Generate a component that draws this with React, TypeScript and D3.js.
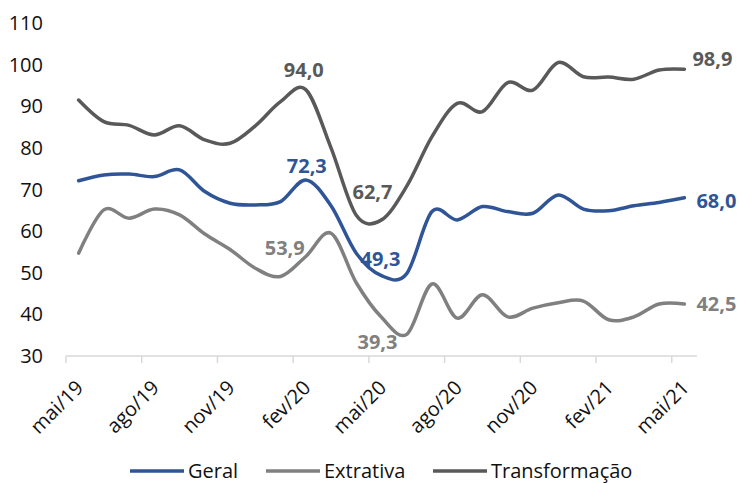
import { useEffect, useRef } from 'react'
import * as d3 from 'd3'

const months = [
  'mai/19', 'jun/19', 'jul/19', 'ago/19', 'set/19', 'out/19', 'nov/19', 'dez/19',
  'jan/20', 'fev/20', 'mar/20', 'abr/20', 'mai/20', 'jun/20', 'jul/20', 'ago/20',
  'set/20', 'out/20', 'nov/20', 'dez/20', 'jan/21', 'fev/21', 'mar/21', 'abr/21', 'mai/21',
]

const geral = [
  72.1, 73.5, 73.7, 73.1, 74.7, 69.5, 66.7, 66.3, 67.1, 72.3, 66.1, 54.7, 49.3,
  49.8, 64.7, 62.7, 65.9, 64.7, 64.3, 68.7, 65.3, 64.9, 66.1, 66.9, 68.0,
]
const extrativa = [
  54.7, 65.1, 63.1, 65.3, 63.9, 59.3, 55.6, 51.1, 49.1, 53.9, 59.5, 47.6, 39.3,
  35.2, 47.3, 39.1, 44.7, 39.4, 41.5, 42.8, 43.2, 38.7, 39.4, 42.5, 42.5,
]
const transformacao = [
  91.5, 86.3, 85.4, 83.1, 85.3, 81.9, 81.1, 85.3, 91.1, 94.0, 80.0, 63.8, 62.7,
  70.8, 82.7, 90.7, 88.7, 95.7, 93.9, 100.5, 97.1, 97.0, 96.5, 98.7, 98.9,
]

const yTicks = [30, 40, 50, 60, 70, 80, 90, 100, 110]

const series = [
  { name: 'Geral', values: geral, color: '#2f5597' },
  { name: 'Extrativa', values: extrativa, color: '#808080' },
  { name: 'Transformação', values: transformacao, color: '#595959' },
]

// which points get a value label, and where it sits relative to the point
const labels = [
  { s: 2, i: 9, dx: -2, dy: -13, anchor: 'middle' },
  { s: 2, i: 12, dx: -9, dy: -21, anchor: 'middle' },
  { s: 2, i: 24, dx: 8, dy: -3, anchor: 'start' },
  { s: 0, i: 9, dx: 1, dy: -7, anchor: 'middle' },
  { s: 0, i: 12, dx: -1, dy: -10, anchor: 'middle' },
  { s: 0, i: 24, dx: 12, dy: 10, anchor: 'start' },
  { s: 1, i: 9, dx: -1, dy: -2, anchor: 'end' },
  { s: 1, i: 12, dx: -4, dy: 32, anchor: 'middle' },
  { s: 1, i: 24, dx: 12, dy: 7, anchor: 'start' },
]

const legendX = [130, 266, 433]

export default function App() {
  const svgRef = useRef<SVGSVGElement>(null)
  const width = 740
  const height = 483

  useEffect(() => {
    const svg = d3.select(svgRef.current)
    svg.selectAll('*').remove()
    const font = "'Open Sans', sans-serif"

    const x = d3.scaleBand().domain(months).range([66, 697]).padding(0)
    const cx = (i: number) => (x(months[i]) as number) + x.bandwidth() / 2
    const y = d3.scaleLinear().domain([30, 110]).range([356, 23])

    // y tick labels, no axis line
    svg.append('g')
      .selectAll('text')
      .data(yTicks)
      .enter()
      .append('text')
      .attr('x', 43)
      .attr('y', d => y(d))
      .attr('dy', '0.35em')
      .attr('text-anchor', 'end')
      .style('font-family', font)
      .style('font-size', '20px')
      .attr('fill', '#111')
      .text(d => d)

    // x axis line + ticks every 3 months
    const axis = svg.append('g')
    axis.append('line')
      .attr('x1', 66).attr('x2', 697)
      .attr('y1', y(30)).attr('y2', y(30))
      .attr('stroke', '#d9d9d9').attr('stroke-width', 1.5)
    const tickIdx = months.map((_, i) => i).filter(i => i % 3 === 0)
    axis.selectAll('.tk')
      .data(tickIdx)
      .enter()
      .append('line')
      .attr('x1', i => x(months[i]) as number)
      .attr('x2', i => x(months[i]) as number)
      .attr('y1', y(30)).attr('y2', y(30) + 7)
      .attr('stroke', '#d9d9d9').attr('stroke-width', 1.5)
    axis.selectAll('.lbl')
      .data(tickIdx)
      .enter()
      .append('text')
      .attr('text-anchor', 'end')
      .attr('transform', i => `translate(${cx(i) + 6}, ${y(30) + 33}) rotate(-45)`)
      .style('font-family', font)
      .style('font-size', '20px')
      .attr('fill', '#111')
      .text(i => months[i])

    // lines
    const line = d3.line<number>()
      .x((_, i) => cx(i))
      .y(d => y(d))
      .curve(d3.curveCatmullRom.alpha(0))
    svg.append('g')
      .selectAll('path')
      .data(series)
      .enter()
      .append('path')
      .attr('d', d => line(d.values))
      .attr('fill', 'none')
      .attr('stroke', d => d.color)
      .attr('stroke-width', 3.5)
      .attr('stroke-linejoin', 'round')
      .attr('stroke-linecap', 'round')

    // value labels
    svg.append('g')
      .selectAll('text')
      .data(labels)
      .enter()
      .append('text')
      .attr('x', d => cx(d.i) + d.dx)
      .attr('y', d => y(series[d.s].values[d.i]) + d.dy)
      .attr('text-anchor', d => d.anchor)
      .style('font-family', font)
      .style('font-size', '20px')
      .style('font-weight', 'bold')
      .attr('fill', d => series[d.s].color)
      .text(d => d3.format('.1f')(series[d.s].values[d.i]).replace('.', ','))

    // legend
    const lg = svg.append('g')
      .selectAll('g')
      .data(series)
      .enter()
      .append('g')
      .attr('transform', (_, i) => `translate(${legendX[i]}, 471)`)
    lg.append('line')
      .attr('x1', 0).attr('x2', 54)
      .attr('stroke', d => d.color)
      .attr('stroke-width', 3.5)
    lg.append('text')
      .attr('x', 58)
      .attr('dy', '0.35em')
      .style('font-family', font)
      .style('font-size', '20px')
      .attr('fill', '#111')
      .text(d => d.name)
  }, [])

  return (
    <svg
      ref={svgRef}
      width={width}
      height={height}
      style={{ position: 'absolute', left: 0, top: 0, background: '#fff' }}
    />
  )
}
